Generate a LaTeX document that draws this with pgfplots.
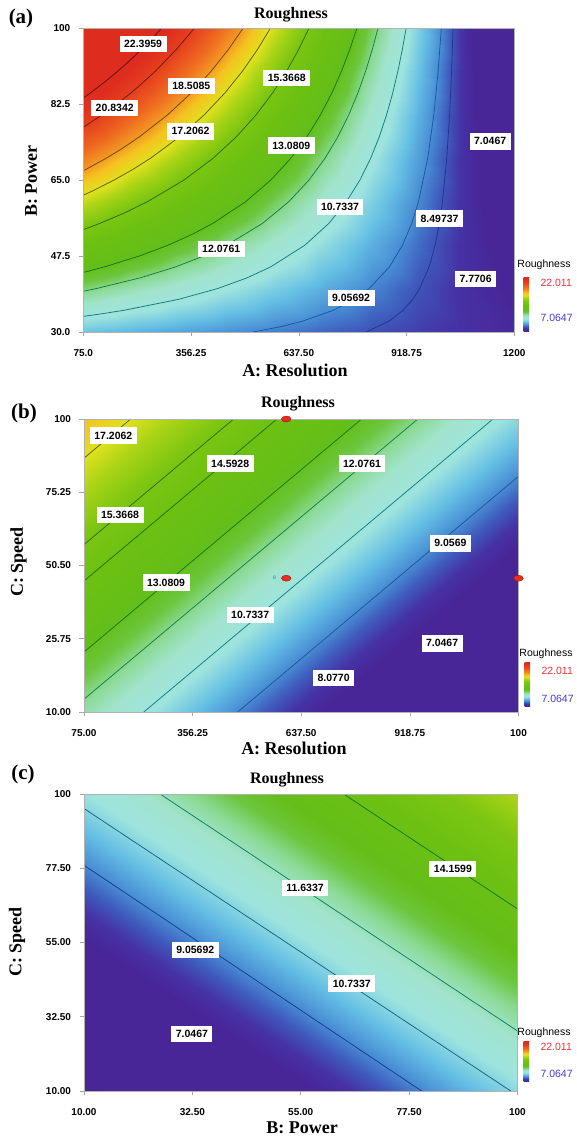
\documentclass[border=0pt]{standalone}
\usepackage{fontspec}
\setmainfont{Liberation Serif}
\newfontfamily\lsans{Liberation Sans}
\usepackage{pgfplots}
\pgfplotsset{compat=1.18}

\definecolor{cm0}{RGB}{72,38,152}
\definecolor{cm2}{RGB}{70,50,165}
\definecolor{cm3}{RGB}{62,90,188}
\definecolor{cm4}{RGB}{72,140,212}
\definecolor{cm5}{RGB}{100,190,228}
\definecolor{cm6}{RGB}{158,228,222}
\definecolor{cm7}{RGB}{160,228,205}
\definecolor{cm8}{RGB}{140,218,150}
\definecolor{cm9}{RGB}{108,198,60}
\definecolor{cm10}{RGB}{100,190,25}
\definecolor{cm11}{RGB}{108,192,18}
\definecolor{cm12}{RGB}{125,198,18}
\definecolor{cm13}{RGB}{170,212,22}
\definecolor{cm14}{RGB}{222,225,30}
\definecolor{cm15}{RGB}{245,195,32}
\definecolor{cm16}{RGB}{243,152,35}
\definecolor{cm17}{RGB}{238,104,32}
\definecolor{cm18}{RGB}{230,64,30}
\definecolor{cm19}{RGB}{222,44,30}
\definecolor{cbred}{RGB}{240,50,50}
\definecolor{cbblue}{RGB}{70,60,200}

% little legend bar, 25bp = 7.0647, 75bp = 22.011
\pgfdeclareverticalshading{rbar}{100bp}{color(0bp)=(cm0); color(25bp)=(cm0); color(26.8bp)=(cm0);
  color(28.46bp)=(cm2); color(30.14bp)=(cm3); color(31.81bp)=(cm4); color(34.15bp)=(cm5);
  color(36.83bp)=(cm6); color(39.5bp)=(cm7); color(41.51bp)=(cm8); color(43.52bp)=(cm9);
  color(45.52bp)=(cm10); color(49.87bp)=(cm11); color(53.55bp)=(cm12); color(56.56bp)=(cm13);
  color(58.91bp)=(cm14); color(61.58bp)=(cm15); color(63.59bp)=(cm16); color(66.93bp)=(cm17);
  color(70.95bp)=(cm18); color(75bp)=(cm19); color(100bp)=(cm19)}

\newcommand\ticf{\lsans\bfseries\fontsize{10}{11}\selectfont}
\pgfplotsset{
  colormap={rough}{rgb255(40pt)=(72,38,152); rgb255(76pt)=(72,38,152); rgb255(81pt)=(70,50,165);
    rgb255(86pt)=(62,90,188); rgb255(91pt)=(72,140,212); rgb255(98pt)=(100,190,228);
    rgb255(106pt)=(158,228,222); rgb255(114pt)=(160,228,205); rgb255(120pt)=(140,218,150);
    rgb255(126pt)=(108,198,60); rgb255(132pt)=(100,190,25); rgb255(145pt)=(108,192,18);
    rgb255(156pt)=(125,198,18); rgb255(165pt)=(170,212,22); rgb255(172pt)=(222,225,30);
    rgb255(180pt)=(245,195,32); rgb255(186pt)=(243,152,35); rgb255(196pt)=(238,104,32);
    rgb255(208pt)=(230,64,30); rgb255(220pt)=(222,44,30); rgb255(265pt)=(222,44,30)},
  rs/.style={
    scale only axis, view={0}{90}, anchor=south west,
    enlargelimits=false, axis on top,
    tick align=outside, major tick length=4.5pt,
    xtick pos=left, ytick pos=left, ztick=\empty,
    every tick/.style={gray!70, line width=0.6pt},
    axis line style={gray!60, line width=0.7pt},
    xticklabel style={font=\ticf, anchor=center, yshift=-17pt},
    yticklabel style={font=\ticf, anchor=east, xshift=-5pt},
    colormap name=rough, point meta min=4, point meta max=26.5,
  },
  cl/.style={line width=0.75pt},
}
\tikzset{
  clab/.style={fill=white, inner xsep=4.5pt, inner ysep=4.5pt, font=\lsans\bfseries\fontsize{10.5}{11}\selectfont},
  ptit/.style={font=\bfseries\fontsize{16}{18}\selectfont},
  plab/.style={font=\bfseries\fontsize{18}{20}\selectfont},
  plet/.style={font=\bfseries\fontsize{21}{23}\selectfont},
  cbt/.style={font=\lsans\fontsize{10.5}{11}\selectfont},
}

\begin{document}
\begin{tikzpicture}
\useasboundingbox (0,0) rectangle (577pt,1140pt);

%%%%%%%%%%%%%%%% (a) Resolution x Power
\begin{axis}[rs, at={(83.3pt,808pt)}, width=431pt, height=304pt,
  xmin=75, xmax=1200, ymin=30, ymax=100,
  xtick={75,356.25,637.5,918.75,1200}, xticklabels={75.0,356.25,637.50,918.75,1200},
  ytick={30,47.5,65,82.5,100}, yticklabels={30.0,47.5,65.0,82.5,100}]
\addplot3[surf, shader=interp, mesh/cols=10, mesh/rows=8] table {
x y z
75 30 9.90
200 30 9.66
325 30 9.43
450 30 9.19
575 30 8.95
700 30 8.71
825 30 8.48
950 30 8.24
1075 30 8.00
1200 30 7.76
75 40 12.22
200 40 11.69
325 40 11.16
450 40 10.63
575 40 10.10
700 40 9.57
825 40 9.04
950 40 8.51
1075 40 7.98
1200 40 7.45
75 50 14.54
200 50 13.72
325 50 12.90
450 50 12.07
575 50 11.25
700 50 10.43
825 50 9.61
950 50 8.78
1075 50 7.96
1200 50 7.14
75 60 16.86
200 60 15.75
325 60 14.63
450 60 13.52
575 60 12.40
700 60 11.29
825 60 10.17
950 60 9.06
1075 60 7.94
1200 60 6.83
75 70 19.18
200 70 17.77
325 70 16.37
450 70 14.96
575 70 13.55
700 70 12.14
825 70 10.74
950 70 9.33
1075 70 7.92
1200 70 6.51
75 80 21.50
200 80 19.80
325 80 18.10
450 80 16.40
575 80 14.70
700 80 13.00
825 80 11.30
950 80 9.60
1075 80 7.90
1200 80 6.20
75 90 23.82
200 90 21.83
325 90 19.84
450 90 17.84
575 90 15.85
700 90 13.86
825 90 11.87
950 90 9.87
1075 90 7.88
1200 90 5.89
75 100 26.14
200 100 23.86
325 100 21.57
450 100 19.29
575 100 17.00
700 100 14.72
825 100 12.43
950 100 10.15
1075 100 7.86
1200 100 5.58
};
% contour lines
\addplot3[cl, color={rgb,255:red,90;green,20;blue,15}] coordinates {(75,83.86,0) (92.9,85,0) (130,87.5,0) (164.3,90,0) (196.3,92.5,0) (226,95,0) (253.8,97.5,0) (279.8,100,0)};
\addplot3[cl, color={rgb,255:red,100;green,30;blue,15}] coordinates {(75,77.13,0) (124,80,0) (162.8,82.5,0) (198.6,85,0) (231.7,87.5,0) (262.3,90,0) (317.3,95,0) (365.3,100,0)};
\addplot3[cl, color={rgb,255:red,110;green,70;blue,10}] coordinates {(75,67.11,0) (134.6,70,0) (180.7,72.5,0) (222.3,75,0) (295,80,0) (356.1,85,0) (408.2,90,0) (453.2,95,0) (492.5,100,0)};
\addplot3[cl, color={rgb,255:red,90;green,95;blue,10}] coordinates {(75,61.49,0) (99.6,62.5,0) (155.7,65,0) (205.6,67.5,0) (250.3,70,0) (327.1,75,0) (390.7,80,0) (444.2,85,0) (489.9,90,0) (529.3,95,0) (563.7,100,0)};
\addplot3[cl, color={rgb,255:red,40;green,110;blue,10}] coordinates {(75,53.56,0) (118,55,0) (184.6,57.5,0) (242.4,60,0) (338,65,0) (413.6,70,0) (475.1,75,0) (526,80,0) (568.8,85,0) (605.3,90,0) (636.8,95,0) (664.3,100,0)};
\addplot3[cl, color={rgb,255:red,20;green,120;blue,25}] coordinates {(75,43.71,0) (130.3,45,0) (221.6,47.5,0) (296.7,50,0) (359.6,52.5,0) (412.9,55,0) (498.7,60,0) (564.5,65,0) (616.7,70,0) (659,75,0) (694.1,80,0) (723.6,85,0) (748.7,90,0) (770.4,95,0) (789.4,100,0)};
\addplot3[cl, color={rgb,255:red,20;green,125;blue,80}] coordinates {(75,39.38,0) (108.9,40,0) (225,42.5,0) (316,45,0) (389.2,47.5,0) (449.5,50,0) (542.6,55,0) (611.3,60,0) (664.1,65,0) (705.9,70,0) (739.8,75,0) (767.9,80,0) (791.6,85,0) (811.7,90,0) (829.2,95,0) (844.4,100,0)};
\addplot3[cl, color={rgb,255:red,20;green,125;blue,130}] coordinates {(75,33.59,0) (127.6,34.25,0) (181.3,35,0) (323,37.5,0) (425.5,40,0) (503.2,42.5,0) (564.2,45,0) (653.5,50,0) (715.8,55,0) (761.8,60,0) (797.1,65,0) (825.1,70,0) (847.8,75,0) (866.6,80,0) (882.5,85,0) (896,90,0) (907.6,95,0) (917.8,100,0)};
\addplot3[cl, color={rgb,255:red,25;green,90;blue,150}] coordinates {(518.7,30,0) (591.8,31.25,0) (647.7,32.5,0) (727.5,35,0) (781.7,37.5,0) (821,40,0) (874.1,45,0) (908.3,50,0) (932.2,55,0) (949.8,60,0) (974,70,0) (989.9,80,0) (1001.2,90,0) (1009.5,100,0)};
\addplot3[cl, color={rgb,255:red,30;green,55;blue,140}] coordinates {(813.2,30,0) (872.8,32.5,0) (909.7,35,0) (934.8,37.5,0) (953,40,0) (977.5,45,0) (993.3,50,0) (1004.4,55,0) (1012.5,60,0) (1023.7,70,0) (1031.1,80,0) (1036.3,90,0) (1040.1,100,0)};
\node[clab] at (axis cs:231,96.3,0) {22.3959};
\node[clab] at (axis cs:157,81.6,0) {20.8342};
\node[clab] at (axis cs:357,86.6,0) {18.5085};
\node[clab] at (axis cs:355,76.2,0) {17.2062};
\node[clab] at (axis cs:606,88.5,0) {15.3668};
\node[clab] at (axis cs:618,72.9,0) {13.0809};
\node[clab] at (axis cs:435,49.1,0) {12.0761};
\node[clab] at (axis cs:745,58.8,0) {10.7337};
\node[clab] at (axis cs:774,37.8,0) {9.05692};
\node[clab] at (axis cs:1005,56.1,0) {8.49737};
\node[clab] at (axis cs:1099,42.2,0) {7.7706};
\node[clab] at (axis cs:1137,73.9,0) {7.0467};
\end{axis}
\node[plet] at (21pt,1122pt) {(a)};
\node[ptit] at (291pt,1125.5pt) {Roughness};
\node[plab] at (295pt,770pt) {A: Resolution};
\node[plab, rotate=90] at (31pt,959pt) {B: Power};
\shade[shading=rbar] (523.5pt,808pt) rectangle (529pt,862pt);
\node[cbt] at (544pt,875pt) {Roughness};
\node[cbt, text=cbred, anchor=west] at (537pt,857pt) {22.011};
\node[cbt, text=cbblue, anchor=west] at (537pt,822pt) {7.0647};

%%%%%%%%%%%%%%%% (b) Resolution x Speed
\begin{axis}[rs, at={(84pt,428pt)}, width=434.5pt, height=293pt,
  xmin=75, xmax=1200, ymin=1, ymax=100,
  xtick={75,356.25,637.5,918.75,1200}, xticklabels={75.00,356.25,637.50,918.75,100},
  ytick={1,25.75,50.5,75.25,100}, yticklabels={10.00,25.75,50.50,75.25,100}]
\addplot3[surf, shader=interp, mesh/cols=5, mesh/rows=5] table {
x y z
75 1 11.80
356.25 1 9.86
637.5 1 7.92
918.75 1 5.98
1200 1 4.04
75 25.75 13.36
356.25 25.75 11.42
637.5 25.75 9.48
918.75 25.75 7.54
1200 25.75 5.60
75 50.5 14.92
356.25 50.5 12.98
637.5 50.5 11.04
918.75 50.5 9.10
1200 50.5 7.16
75 75.25 16.48
356.25 75.25 14.54
637.5 75.25 12.60
918.75 75.25 10.66
1200 75.25 8.72
75 100 18.04
356.25 100 16.10
637.5 100 14.16
918.75 100 12.22
1200 100 10.28
};
\addplot3[cl, color={rgb,255:red,90;green,95;blue,10}] coordinates {(75,86.77,0) (195.8,100,0)};
\addplot3[cl, color={rgb,255:red,40;green,110;blue,10}] coordinates {(75,57.57,0) (462.4,100,0)};
\addplot3[cl, color={rgb,255:red,30;green,115;blue,15}] coordinates {(75,45.28,0) (574.6,100,0)};
\addplot3[cl, color={rgb,255:red,20;green,120;blue,25}] coordinates {(75,21.28,0) (793.7,100,0)};
\addplot3[cl, color={rgb,255:red,20;green,125;blue,80}] coordinates {(75,5.33,0) (939.3,100,0)};
\addplot3[cl, color={rgb,255:red,20;green,125;blue,130}] coordinates {(230,1,0) (1133.9,100,0)};
\addplot3[cl, color={rgb,255:red,25;green,90;blue,150}] coordinates {(473,1,0) (1200,80.63,0)};
\node[clab] at (axis cs:151,94.4,0) {17.2062};
\node[clab] at (axis cs:453.5,85,0) {14.5928};
\node[clab] at (axis cs:794.8,85,0) {12.0761};
\node[clab] at (axis cs:168.3,67.6,0) {15.3668};
\node[clab] at (axis cs:1023.7,58,0) {9.0569};
\node[clab] at (axis cs:287.6,44.7,0) {13.0809};
\node[clab] at (axis cs:505.3,33.8,0) {10.7337};
\node[clab] at (axis cs:1002.2,24.2,0) {7.0467};
\node[clab] at (axis cs:721.3,12.4,0) {8.0770};
\node[font=\lsans\fontsize{5}{5}\selectfont, text={rgb,255:red,40;green,120;blue,140}, inner sep=0pt] at (axis cs:568,46.2,0) {8};
\addplot3[only marks, mark=*, mark size=3pt,
  mark options={xscale=1.6, fill={rgb,255:red,232;green,45;blue,30}, draw={rgb,255:red,170;green,20;blue,10}, line width=0.4pt}]
  coordinates {(598.6,100,0) (598.6,46.2,0) (1200,46.2,0)};
\end{axis}
\node[plet] at (24pt,727pt) {(b)};
\node[ptit] at (298pt,736.5pt) {Roughness};
\node[plab] at (294pt,392pt) {A: Resolution};
\node[plab, rotate=90] at (18.5pt,578pt) {C: Speed};
\shade[shading=rbar] (524.5pt,433pt) rectangle (530pt,477pt);
\node[cbt] at (546pt,486pt) {Roughness};
\node[cbt, text=cbred, anchor=west] at (538pt,469pt) {22.011};
\node[cbt, text=cbblue, anchor=west] at (538pt,441pt) {7.0647};

%%%%%%%%%%%%%%%% (c) Power x Speed
\begin{axis}[rs, at={(84pt,49pt)}, width=433.5pt, height=297pt,
  xmin=10, xmax=100, ymin=10, ymax=100,
  xtick={10,32.5,55,77.5,100}, xticklabels={10.00,32.50,55.00,77.50,100},
  ytick={10,32.5,55,77.5,100}, yticklabels={10.00,32.50,55.00,77.50,100}]
\addplot3[surf, shader=interp, mesh/cols=5, mesh/rows=5] table {
x y z
10 10 4.37
32.5 10 5.87
55 10 7.36
77.5 10 8.86
100 10 10.35
10 32.5 5.92
32.5 32.5 7.42
55 32.5 8.91
77.5 32.5 10.41
100 32.5 11.90
10 55 7.47
32.5 55 8.97
55 55 10.46
77.5 55 11.96
100 55 13.45
10 77.5 9.02
32.5 77.5 10.52
55 77.5 12.01
77.5 77.5 13.51
100 77.5 15.00
10 100 10.57
32.5 100 12.07
55 100 13.56
77.5 100 15.06
100 100 16.56
};
\addplot3[cl, color={rgb,255:red,25;green,60;blue,140}] coordinates {(10,78.4,0) (80.1,10,0)};
\addplot3[cl, color={rgb,255:red,20;green,100;blue,130}] coordinates {(10,95.6,0) (98.6,10,0)};
\addplot3[cl, color={rgb,255:red,20;green,120;blue,110}] coordinates {(25.8,100,0) (100,28.2,0)};
\addplot3[cl, color={rgb,255:red,20;green,120;blue,40}] coordinates {(63.9,100,0) (100,65.2,0)};
\node[clab] at (axis cs:86.6,77.3,0) {14.1599};
\node[clab] at (axis cs:55.9,71.5,0) {11.6337};
\node[clab] at (axis cs:33.1,52.8,0) {9.05692};
\node[clab] at (axis cs:65.6,42.6,0) {10.7337};
\node[clab] at (axis cs:32.4,27.2,0) {7.0467};
\end{axis}
\node[plet] at (23pt,366pt) {(c)};
\node[ptit] at (287pt,360.5pt) {Roughness};
\node[plab] at (302pt,12pt) {B: Power};
\node[plab, rotate=90] at (17pt,198pt) {C: Speed};
\shade[shading=rbar] (523.5pt,58pt) rectangle (529pt,98pt);
\node[cbt] at (544pt,107pt) {Roughness};
\node[cbt, text=cbred, anchor=west] at (537pt,93pt) {22.011};
\node[cbt, text=cbblue, anchor=west] at (537pt,66pt) {7.0647};
\end{tikzpicture}
\end{document}
